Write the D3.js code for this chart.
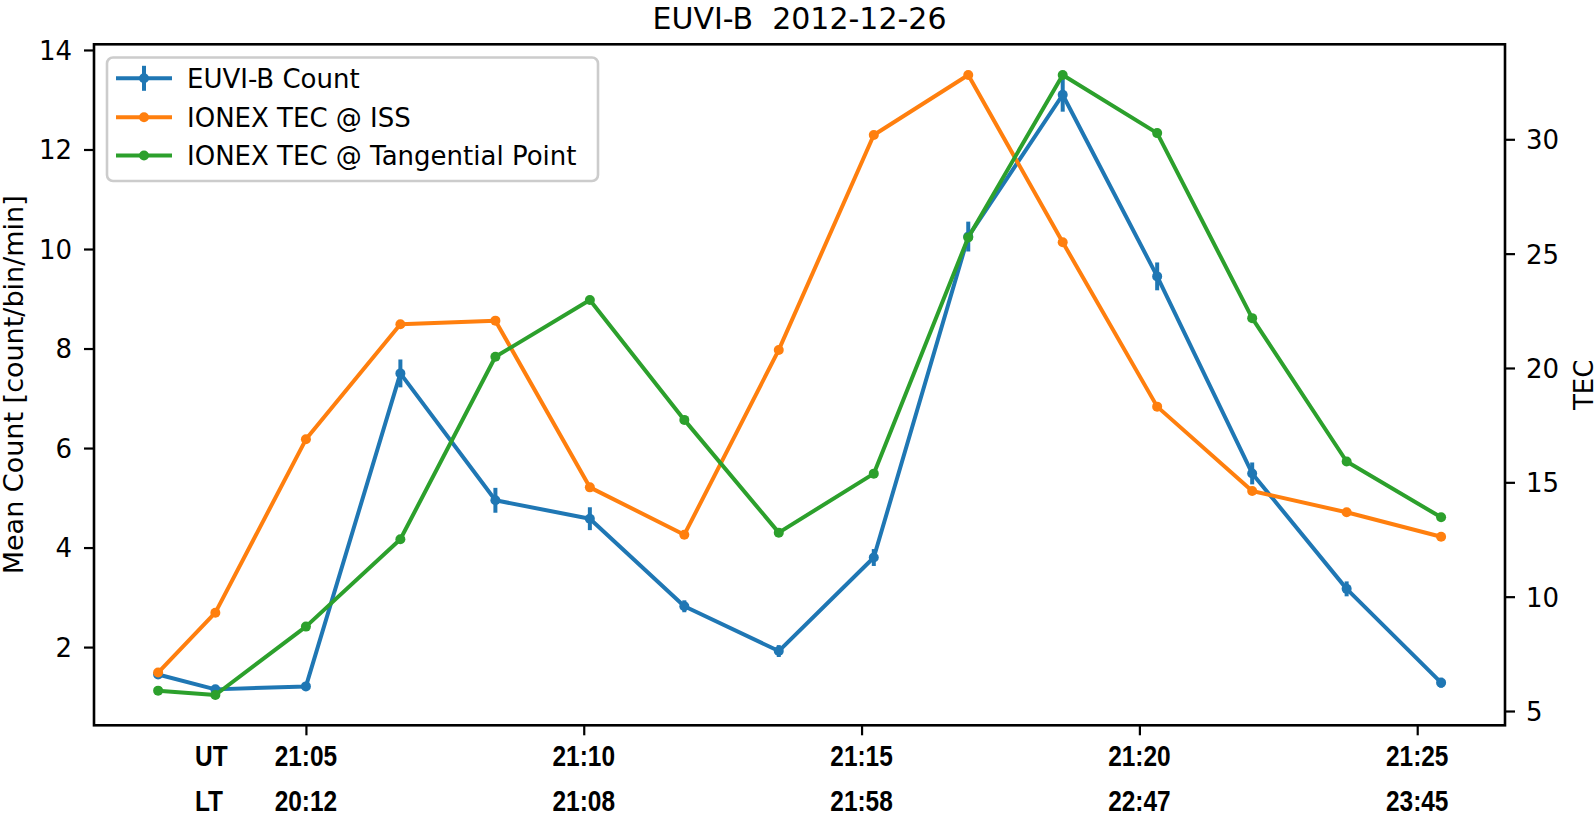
<!DOCTYPE html>
<html>
<head>
<meta charset="utf-8">
<script src="https://cdn.jsdelivr.net/npm/d3@7"></script>
<style>
  html, body { margin: 0; padding: 0; background: #fff; }
  svg { display: block; }
  text { font-family: "DejaVu Sans", sans-serif; fill: #000; }
</style>
</head>
<body>
<svg id="chart" width="1594" height="816"></svg>
<script>
// ---------------- data ----------------
// sample times, minutes after 21:00 UT
const times = [2.34, 3.37, 5.0, 6.70, 8.41, 10.11, 11.81, 13.51, 15.22, 16.92, 18.62, 20.32, 22.03, 23.73, 25.43];
const euviCount = [1.45, 1.15, 1.21, 7.50, 4.95, 4.58, 2.82, 1.92, 3.80, 10.25, 13.10, 9.45, 5.49, 3.17, 1.285];
const euviErr = [0.08, 0.06, 0.06, 0.28, 0.25, 0.23, 0.12, 0.12, 0.17, 0.30, 0.34, 0.28, 0.22, 0.15, 0.10];
const tecISS = [6.68, 9.30, 16.88, 21.91, 22.07, 14.78, 12.71, 20.79, 30.19, 32.81, 25.50, 18.31, 14.62, 13.69, 12.62];
const tecTangent = [5.89, 5.70, 8.69, 12.51, 20.49, 22.97, 17.73, 12.80, 15.38, 25.71, 32.81, 30.27, 22.18, 15.91, 13.47];

const xTickMinutes = [5, 10, 15, 20, 25];
const utLabels = ["21:05", "21:10", "21:15", "21:20", "21:25"];
const ltLabels = ["20:12", "21:08", "21:58", "22:47", "23:45"];
const leftTicks = [2, 4, 6, 8, 10, 12, 14];
const rightTicks = [5, 10, 15, 20, 25, 30];
const seriesNames = ["EUVI-B Count", "IONEX TEC @ ISS", "IONEX TEC @ Tangential Point"];
const seriesColors = ["#1f77b4", "#ff7f0e", "#2ca02c"];
const titleText = "EUVI-B  2012-12-26";
const leftLabel = "Mean Count [count/bin/min]";
const rightLabel = "TEC";

// axis limits
const xLimits = [1.186, 26.58];
const leftLimits = [0.428, 14.114];
const rightLimits = [4.375, 34.154];

// ---------------- layout ----------------
const W = 1594, H = 816;
const m = { left: 94, top: 44.3, right: 1505, bottom: 725.3 };

const svg = d3.select("#chart");

const x = d3.scaleLinear().domain(xLimits).range([m.left, m.right]);
const yL = d3.scaleLinear().domain(leftLimits).range([m.bottom, m.top]);
const yR = d3.scaleLinear().domain(rightLimits).range([m.bottom, m.top]);

const LW = 4, R = 5, FS = 26;

// --- EUVI-B count with error bars (left axis)
const gBlue = svg.append("g");
gBlue.selectAll("line.err").data(times).join("line")
  .attr("x1", d => x(d)).attr("x2", d => x(d))
  .attr("y1", (d, i) => yL(euviCount[i] - euviErr[i]))
  .attr("y2", (d, i) => yL(euviCount[i] + euviErr[i]))
  .attr("stroke", seriesColors[0]).attr("stroke-width", 4);
gBlue.append("path")
  .datum(times.map((t, i) => [t, euviCount[i]]))
  .attr("fill", "none").attr("stroke", seriesColors[0]).attr("stroke-width", LW)
  .attr("stroke-linejoin", "round")
  .attr("d", d3.line().x(d => x(d[0])).y(d => yL(d[1])));
gBlue.selectAll("circle").data(times).join("circle")
  .attr("cx", d => x(d)).attr("cy", (d, i) => yL(euviCount[i])).attr("r", R)
  .attr("fill", seriesColors[0]);

// --- TEC series (right axis)
[tecISS, tecTangent].forEach((vals, k) => {
  const g = svg.append("g");
  const c = seriesColors[k + 1];
  g.append("path")
    .datum(times.map((t, i) => [t, vals[i]]))
    .attr("fill", "none").attr("stroke", c).attr("stroke-width", LW)
    .attr("stroke-linejoin", "round")
    .attr("d", d3.line().x(d => x(d[0])).y(d => yR(d[1])));
  g.selectAll("circle").data(times).join("circle")
    .attr("cx", d => x(d)).attr("cy", (d, i) => yR(vals[i])).attr("r", R)
    .attr("fill", c);
});

// --- frame
svg.append("rect")
  .attr("x", m.left).attr("y", m.top)
  .attr("width", m.right - m.left).attr("height", m.bottom - m.top)
  .attr("fill", "none").attr("stroke", "#000").attr("stroke-width", 2.6);

// --- left axis
const leftAxis = d3.axisLeft(yL).tickValues(leftTicks).tickSize(10).tickPadding(10)
  .tickFormat(d3.format("d"));
const gL = svg.append("g").attr("transform", `translate(${m.left},0)`).call(leftAxis);
gL.select(".domain").remove();
gL.selectAll(".tick line").attr("stroke", "#000").attr("stroke-width", 2.2);
gL.selectAll(".tick text").attr("font-family", "DejaVu Sans").attr("font-size", FS)
  .attr("fill", "#000").attr("x", -22).attr("dy", "0.36em");

// --- right axis
const rightAxis = d3.axisRight(yR).tickValues(rightTicks).tickSize(10).tickPadding(10)
  .tickFormat(d3.format("d"));
const gR = svg.append("g").attr("transform", `translate(${m.right},0)`).call(rightAxis);
gR.select(".domain").remove();
gR.selectAll(".tick line").attr("stroke", "#000").attr("stroke-width", 2.2);
gR.selectAll(".tick text").attr("font-family", "DejaVu Sans").attr("font-size", FS)
  .attr("fill", "#000").attr("x", 21).attr("dy", "0.36em");

// --- bottom axis (ticks only, labels drawn as two rows)
const bottomAxis = d3.axisBottom(x).tickValues(xTickMinutes).tickSize(10).tickFormat("");
const gB = svg.append("g").attr("transform", `translate(0,${m.bottom})`).call(bottomAxis);
gB.select(".domain").remove();
gB.selectAll(".tick line").attr("stroke", "#000").attr("stroke-width", 2.2);

const narrowFont = "'Liberation Sans Narrow', 'Liberation Sans', Arial, sans-serif";
const gX = svg.append("g").attr("font-family", narrowFont).attr("font-weight", "bold").attr("font-size", 30);
const utY = 766, ltY = 811.5;
gX.selectAll("text.ut").data(xTickMinutes).join("text").attr("class", "xl ut")
  .attr("x", d => x(d)).attr("y", utY).attr("text-anchor", "middle")
  .style("font-family", narrowFont).text((d, i) => utLabels[i]);
gX.selectAll("text.lt").data(xTickMinutes).join("text").attr("class", "xl lt")
  .attr("x", d => x(d)).attr("y", ltY).attr("text-anchor", "middle")
  .style("font-family", narrowFont).text((d, i) => ltLabels[i]);
gX.append("text").attr("class", "xl").attr("x", 195).attr("y", utY).attr("text-anchor", "start")
  .style("font-family", narrowFont).text("UT");
gX.append("text").attr("class", "xl").attr("x", 195).attr("y", ltY).attr("text-anchor", "start")
  .style("font-family", narrowFont).text("LT");

// fallback: if narrow face unavailable, compress horizontally
(function () {
  const probe = gX.append("text").style("font-family", narrowFont).text("21:05");
  const w = probe.node().getComputedTextLength();
  probe.remove();
  const target = 62.5;
  if (Math.abs(w - target) > 3) {
    const s = target / w;
    gX.selectAll("text.xl").each(function () {
      const t = d3.select(this);
      const xx = +t.attr("x");
      t.attr("transform", `translate(${xx},0) scale(${s},1) translate(${-xx},0)`);
    });
  }
})();

// --- axis labels
svg.append("text").attr("transform", `translate(23,${(m.top + m.bottom) / 2}) rotate(-90)`)
  .attr("text-anchor", "middle").attr("font-size", 27).text(leftLabel);
svg.append("text").attr("transform", `translate(1593,${(m.top + m.bottom) / 2}) rotate(-90)`)
  .attr("text-anchor", "middle").attr("font-size", 26).text(rightLabel);

// --- title
svg.append("text").attr("x", (m.left + m.right) / 2).attr("y", 29)
  .attr("text-anchor", "middle").attr("font-size", 30).style("white-space", "pre")
  .attr("xml:space", "preserve").text(titleText);

// --- legend
const lg = svg.append("g");
lg.append("rect").attr("x", 107).attr("y", 57.5).attr("width", 491).attr("height", 123.5)
  .attr("rx", 6).attr("ry", 6)
  .attr("fill", "rgba(255,255,255,0.8)").attr("stroke", "#cccccc").attr("stroke-width", 2.6);
const rowY = [78.3, 117.3, 155.5];
seriesNames.forEach((name, i) => {
  const cy = rowY[i];
  lg.append("line").attr("x1", 116).attr("x2", 172).attr("y1", cy).attr("y2", cy)
    .attr("stroke", seriesColors[i]).attr("stroke-width", LW);
  if (i === 0) {
    lg.append("line").attr("x1", 144).attr("x2", 144).attr("y1", cy - 12.5).attr("y2", cy + 12.5)
      .attr("stroke", seriesColors[i]).attr("stroke-width", 4);
  }
  lg.append("circle").attr("cx", 144).attr("cy", cy).attr("r", R).attr("fill", seriesColors[i]);
  lg.append("text").attr("x", 187).attr("y", cy).attr("dy", "0.36em")
    .attr("font-size", 26).text(name);
});
</script>
</body>
</html>
